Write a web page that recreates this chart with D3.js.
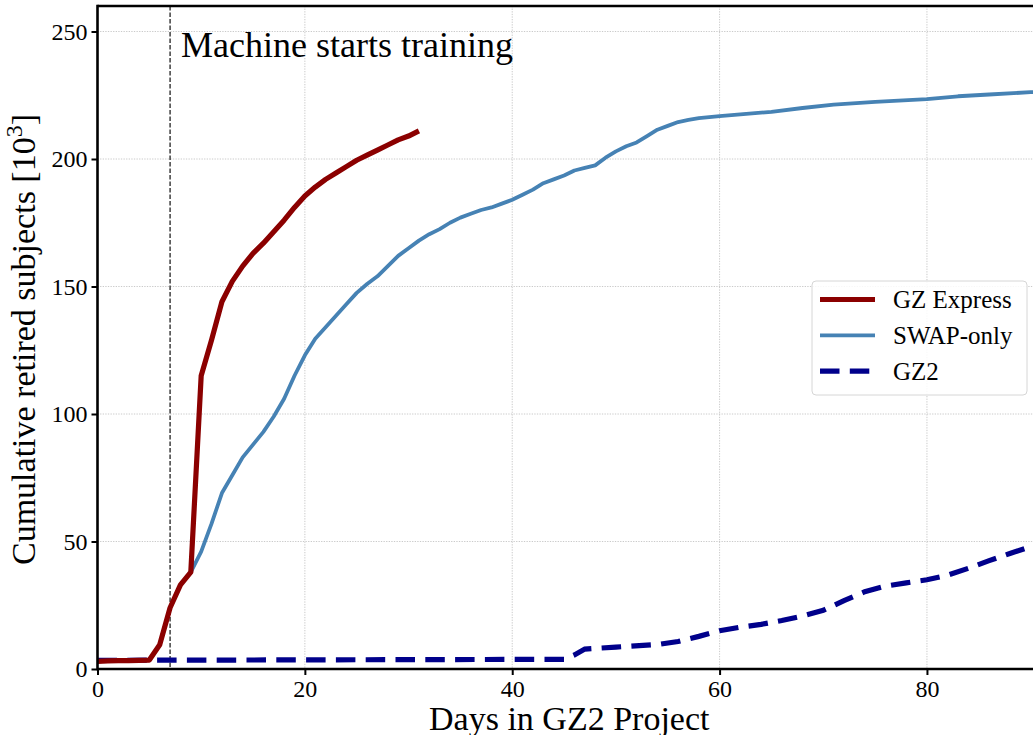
<!DOCTYPE html>
<html>
<head>
<meta charset="utf-8">
<script src="https://cdn.jsdelivr.net/npm/d3@7"></script>
<style>
  html, body { margin: 0; padding: 0; background: #fff; }
  svg { display: block; font-family: "Liberation Serif", "Times New Roman", serif; }
</style>
</head>
<body>
<svg id="chart" width="1033" height="735"></svg>
<script>
// ---------------- data ----------------
const expressDays   = [0,1,2,3,4,5,6,7,8,9,10,11,12,13,14,15,16,17,18,19,20,21,22,23,24,25,26,27,28,29,30,31];
const expressValues = [3,3.2,3.3,3.3,3.4,3.5,9.5,24,33,38,115,129,144,152,158,163,167,171.5,176,181,185.5,189,192,194.5,197,199.5,201.5,203.5,205.5,207.5,209,211];

const swapDays   = [0,1,2,3,4,5,6,7,8,9,10,11,12,13,14,15,16,17,18,19,20,21,22,23,24,25,26,27,28,29,30,31,32,33,34,35,36,37,38,39,40,41,42,43,44,45,46,47,48,49,50,51,52,53,54,55,56,57,58,60,62,65,68,71,75,80,83,86,90,91];
const swapValues = [3,3.2,3.3,3.3,3.4,3.5,9.5,24,33,38,46,57,69,76,83,88,93,99,106,115,123,129.5,134,138.5,143,147.5,151,154,158,162,165,168,170.5,172.5,175,177,178.5,180,181,182.5,184,186,188,190.5,192,193.5,195.5,196.5,197.5,200.5,203,205,206.5,209,211.5,213,214.5,215.3,216,216.8,217.5,218.5,220,221.3,222.4,223.5,224.6,225.3,226.2,226.4];

const gz2Days   = [0,45,46,47,50,54,56,58,60,62,64,66,68,70,72,74,76,78,80,82,84,86,88,90,91];
const gz2Values = [3.4,3.8,5.5,7.8,8.6,9.6,10.8,12.8,15,16.4,17.5,19,20.8,23,26.8,30.3,32.5,33.8,35,36.8,39.5,42.5,45.3,48,49.5];

const xTicks = [0,20,40,60,80];
const yTicks = [0,50,100,150,200,250];
const seriesNames = ["GZ Express", "SWAP-only", "GZ2"];
const trainingDay = 7;
const annotation = "Machine starts training";
const xLabel = "Days in GZ2 Project";

// ---------------- layout ----------------
const pL = 97.5, pT = 6, pR = 1041, pB = 669;
const svg = d3.select("#chart");

const x = d3.scaleLinear().domain([0, 91]).range([pL, pR]);
const y = d3.scaleLinear().domain([0, 260]).range([pB, pT]);

svg.append("defs").append("clipPath").attr("id", "clip")
  .append("rect").attr("x", pL).attr("y", pT).attr("width", pR - pL).attr("height", pB - pT);

// grid
const grid = svg.append("g");
grid.selectAll("line.gx").data(xTicks).enter().append("line")
  .attr("x1", d => x(d)).attr("x2", d => x(d)).attr("y1", pT).attr("y2", pB)
  .attr("stroke", "#c4c4c4").attr("stroke-width", 0.9).attr("stroke-dasharray", "1.3,1.3");
grid.selectAll("line.gy").data(yTicks).enter().append("line")
  .attr("y1", d => y(d)).attr("y2", d => y(d)).attr("x1", pL).attr("x2", pR)
  .attr("stroke", "#c4c4c4").attr("stroke-width", 0.9).attr("stroke-dasharray", "1.3,1.3");

// vertical training line
svg.append("line")
  .attr("x1", x(trainingDay)).attr("x2", x(trainingDay)).attr("y1", pT).attr("y2", pB)
  .attr("stroke", "#222").attr("stroke-width", 1.3).attr("stroke-dasharray", "4.5,2");

// lines
const line = d3.line().x(d => x(d[0])).y(d => y(d[1]));
const plot = svg.append("g").attr("clip-path", "url(#clip)");

plot.append("path").datum(d3.zip(gz2Days, gz2Values))
  .attr("d", line).attr("fill", "none").attr("stroke", "#00008b")
  .attr("stroke-width", 5.2).attr("stroke-dasharray", "19.5,10.3");
plot.append("path").datum(d3.zip(swapDays, swapValues))
  .attr("d", line).attr("fill", "none").attr("stroke", "#4682b4")
  .attr("stroke-width", 3.8).attr("stroke-linejoin", "round");
plot.append("path").datum(d3.zip(expressDays, expressValues))
  .attr("d", line).attr("fill", "none").attr("stroke", "#8b0000")
  .attr("stroke-width", 5.2).attr("stroke-linejoin", "round");

// annotation
svg.append("text").attr("x", 181).attr("y", 57)
  .attr("font-size", 36).attr("fill", "#000").text(annotation);

// axes
const xAxis = d3.axisBottom(x).tickValues(xTicks).tickSizeInner(6).tickSizeOuter(0).tickPadding(5);
const yAxis = d3.axisLeft(y).tickValues(yTicks).tickSizeInner(6).tickSizeOuter(0).tickPadding(4);

const gx = svg.append("g").attr("transform", `translate(0,${pB})`).call(xAxis);
const gy = svg.append("g").attr("transform", `translate(${pL},0)`).call(yAxis);
[gx, gy].forEach(g => {
  g.select(".domain").remove();
  g.selectAll(".tick line").attr("stroke", "#000").attr("stroke-width", 2);
  g.selectAll(".tick text").attr("font-size", 24).attr("fill", "#000")
    .attr("font-family", "Liberation Serif, serif");
});
gx.selectAll(".tick text").attr("dy", "0.72em");
gy.selectAll(".tick text").attr("dy", "0.33em");

// spines
svg.append("line").attr("x1", pL).attr("x2", pR + 5).attr("y1", pB).attr("y2", pB)
  .attr("stroke", "#000").attr("stroke-width", 2.6);
svg.append("line").attr("x1", pL).attr("x2", pR + 5).attr("y1", pT).attr("y2", pT)
  .attr("stroke", "#000").attr("stroke-width", 2.6);
svg.append("line").attr("x1", pL).attr("x2", pL).attr("y1", pT - 1.3).attr("y2", pB + 1.3)
  .attr("stroke", "#000").attr("stroke-width", 2.6);
svg.append("line").attr("x1", pR).attr("x2", pR).attr("y1", pT - 1.3).attr("y2", pB + 1.3)
  .attr("stroke", "#000").attr("stroke-width", 2.6);

// axis labels
svg.append("text").attr("x", (pL + pR) / 2).attr("y", 730)
  .attr("text-anchor", "middle").attr("font-size", 34).attr("fill", "#000").text(xLabel);

const yl = svg.append("text")
  .attr("transform", `translate(35,${(pT + pB) / 2 + 2}) rotate(-90)`)
  .attr("text-anchor", "middle").attr("font-size", 34).attr("fill", "#000");
yl.append("tspan").text("Cumulative retired subjects [10");
yl.append("tspan").attr("font-size", 24).attr("dy", -13).text("3");
yl.append("tspan").attr("dy", 13).text("]");

// legend
const legend = svg.append("g");
legend.append("rect").attr("x", 812).attr("y", 281).attr("width", 215).attr("height", 114)
  .attr("rx", 4).attr("fill", "#fff").attr("fill-opacity", 0.85)
  .attr("stroke", "#d6d6d6").attr("stroke-width", 1);
const legStyles = [
  { color: "#8b0000", width: 5.2, dash: null },
  { color: "#4682b4", width: 3.8, dash: null },
  { color: "#00008b", width: 5.2, dash: "19.5,10.3" }
];
seriesNames.forEach((name, i) => {
  const yy = 299.5 + i * 35.8;
  const st = legStyles[i];
  const l = legend.append("line").attr("x1", 820).attr("x2", 875).attr("y1", yy).attr("y2", yy)
    .attr("stroke", st.color).attr("stroke-width", st.width);
  if (st.dash) l.attr("stroke-dasharray", st.dash);
  legend.append("text").attr("x", 893).attr("y", yy + 8.5)
    .attr("font-size", 25).attr("fill", "#000").text(name);
});
</script>
</body>
</html>
